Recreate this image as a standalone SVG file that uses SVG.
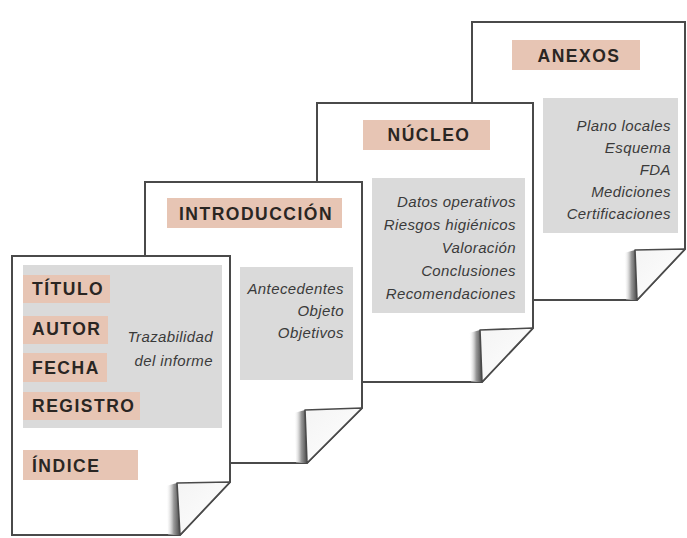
<svg xmlns="http://www.w3.org/2000/svg" width="687" height="538" viewBox="0 0 687 538">
  <defs>
    <linearGradient id="shadow" x1="0" y1="0" x2="1" y2="0">
      <stop offset="0" stop-color="#ffffff" stop-opacity="0"/>
      <stop offset="0.55" stop-color="#9a9a9a"/>
      <stop offset="1" stop-color="#4a4a4a"/>
    </linearGradient>
    <linearGradient id="flapfill" x1="0" y1="0" x2="1" y2="1">
      <stop offset="0" stop-color="#f4f4f4"/>
      <stop offset="1" stop-color="#ffffff"/>
    </linearGradient>
  </defs>
  <style>
    .page { fill: #ffffff; stroke: #4a4a4a; stroke-width: 2; stroke-linejoin: miter; }
    .flap { fill: url(#flapfill); stroke: #4a4a4a; stroke-width: 1.6; stroke-linejoin: round; }
    .shade { fill: url(#shadow); stroke: none; }
    .grey { fill: #dadada; }
    .tag { fill: #e7c5b4; }
    .label { font-family: "Liberation Sans", Arial, sans-serif; font-weight: bold; font-size: 17.5px; letter-spacing: 1.5px; fill: #2a2623; }
    .item { font-family: "Liberation Sans", Arial, sans-serif; font-style: italic; font-size: 15px; letter-spacing: 0.4px; fill: #3a3a3a; text-anchor: end; }
    .mid { text-anchor: middle; }
  </style>

  <g id="page-anexos">
    <path class="page" d="M472,22 H685 V249 L637,300 H472 Z"/>
    <rect class="tag" x="512" y="40" width="128" height="30"/>
    <text class="label mid" x="579" y="62">ANEXOS</text>
    <rect class="grey" x="543" y="98" width="135" height="135"/>
    <text class="item" x="671" y="131">Plano locales</text>
    <text class="item" x="671" y="153">Esquema</text>
    <text class="item" x="671" y="175">FDA</text>
    <text class="item" x="671" y="197">Mediciones</text>
    <text class="item" x="671" y="219">Certificaciones</text>
    <path class="shade" d="M624,253 L635,250 L637,300 L626,300 Z"/>
    <path class="flap" d="M635,250 L685,249 L637,300 Z"/>
  </g>

  <g id="page-nucleo">
    <path class="page" d="M317,103 H533 V328 L482,382 H317 Z"/>
    <rect class="tag" x="363" y="120" width="127" height="30"/>
    <text class="label mid" x="429" y="141">NÚCLEO</text>
    <rect class="grey" x="372" y="178" width="153" height="135"/>
    <text class="item" x="516" y="207">Datos operativos</text>
    <text class="item" x="516" y="230">Riesgos higiénicos</text>
    <text class="item" x="516" y="253">Valoración</text>
    <text class="item" x="516" y="276">Conclusiones</text>
    <text class="item" x="516" y="299">Recomendaciones</text>
    <path class="shade" d="M469,333 L480,330 L482,382 L471,382 Z"/>
    <path class="flap" d="M480,330 L533,328 L482,382 Z"/>
  </g>

  <g id="page-introduccion">
    <path class="page" d="M145,182 H362 V408 L307,463 H145 Z"/>
    <rect class="tag" x="167" y="198" width="175" height="30"/>
    <text class="label mid" x="256" y="220">INTRODUCCIÓN</text>
    <rect class="grey" x="240" y="267" width="113" height="113"/>
    <text class="item" x="344" y="294">Antecedentes</text>
    <text class="item" x="344" y="316">Objeto</text>
    <text class="item" x="344" y="338">Objetivos</text>
    <path class="shade" d="M294,413 L305,410 L307,463 L296,463 Z"/>
    <path class="flap" d="M305,410 L362,408 L307,463 Z"/>
  </g>

  <g id="page-portada">
    <path class="page" d="M12,256 H230 V482 L180,535 H12 Z"/>
    <rect class="grey" x="23" y="265" width="199" height="163"/>
    <rect class="tag" x="23" y="275" width="87" height="28"/>
    <text class="label" x="32" y="295">TÍTULO</text>
    <rect class="tag" x="23" y="316" width="85" height="28"/>
    <text class="label" x="32" y="335">AUTOR</text>
    <rect class="tag" x="23" y="353" width="84" height="29"/>
    <text class="label" x="32" y="374">FECHA</text>
    <rect class="tag" x="23" y="392" width="117" height="28"/>
    <text class="label" x="32" y="412">REGISTRO</text>
    <text class="item" x="213" y="342">Trazabilidad</text>
    <text class="item" x="213" y="366">del informe</text>
    <rect class="tag" x="23" y="450" width="115" height="30"/>
    <text class="label" x="32" y="472">ÍNDICE</text>
    <path class="shade" d="M166,486 L177,483 L180,535 L168,535 Z"/>
    <path class="flap" d="M177,483 L230,482 L180,535 Z"/>
  </g>
</svg>
